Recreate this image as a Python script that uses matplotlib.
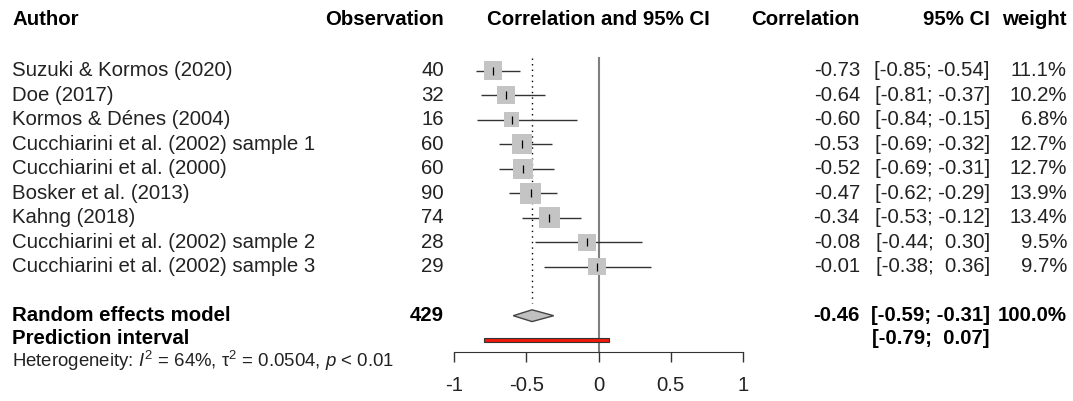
import matplotlib
matplotlib.use("Agg")
import numpy as np
import matplotlib.pyplot as plt
from matplotlib.patches import Rectangle, Polygon
from matplotlib import transforms

plt.rcParams['font.family'] = ['Liberation Sans', 'DejaVu Sans']
plt.rcParams['mathtext.fontset'] = 'custom'
plt.rcParams['mathtext.rm'] = 'Liberation Sans'
plt.rcParams['mathtext.it'] = 'Liberation Sans:italic'

# data
authors = ["Suzuki & Kormos (2020)", "Doe (2017)", "Kormos & Dénes (2004)",
           "Cucchiarini et al. (2002) sample 1", "Cucchiarini et al. (2000)",
           "Bosker et al. (2013)", "Kahng (2018)",
           "Cucchiarini et al. (2002) sample 2", "Cucchiarini et al. (2002) sample 3"]
observations = [40, 32, 16, 60, 60, 90, 74, 28, 29]
corr = [-0.73, -0.64, -0.60, -0.53, -0.52, -0.47, -0.34, -0.08, -0.01]
ci_low = [-0.85, -0.81, -0.84, -0.69, -0.69, -0.62, -0.53, -0.44, -0.38]
ci_high = [-0.54, -0.37, -0.15, -0.32, -0.31, -0.29, -0.12, 0.30, 0.36]
weights = [11.1, 10.2, 6.8, 12.7, 12.7, 13.9, 13.4, 9.5, 9.7]

re_total = 429
re_est, re_low, re_high = -0.46, -0.59, -0.31
pi_low, pi_high = -0.79, 0.07
het_text = r"Heterogeneity: $I^2$ = 64%, τ$^2$ = 0.0504, $p$ < 0.01"
xticks = [-1, -0.5, 0, 0.5, 1]

# layout (pixels)
W, H = 1073, 401
row0_px, row_px = 70.7, 24.5
axis_px = 351.7
fs = 14.7

fig = plt.figure(figsize=(W / 100, H / 100), dpi=100)
ax = fig.add_axes([454 / W, (H - axis_px) / H, 289 / W, axis_px / H])
ax.set_xlim(-1, 1)
ax.set_ylim((axis_px - row0_px) / row_px, -row0_px / row_px)
for s in ["top", "right", "left"]:
    ax.spines[s].set_visible(False)
ax.spines["bottom"].set_bounds(-1, 1)
ax.spines["bottom"].set_color("#333333")
ax.set_yticks([])
ax.set_xticks(xticks)
ax.set_xticklabels(["-1", "-0.5", "0", "0.5", "1"])
ax.tick_params(axis="x", length=7.5, width=1, color="#333333", pad=10,
               labelsize=fs, labelcolor="#222222")

n = len(authors)
rows = np.arange(n)
re_row, pi_row, head_row = n + 1, n + 2, -2.07
het_base = (367 - row0_px) / row_px

# reference lines
ax.plot([0, 0], [-0.52, ax.get_ylim()[0]], color="#808080", lw=1.5, zorder=1, clip_on=False)
ax.plot([re_est, re_est], [-0.52, n + 0.5], color="black", lw=1, ls=(0, (1, 3)), zorder=1)

# studies
ax.hlines(rows, ci_low, ci_high, color="#333333", lw=1, zorder=2)
side_pt = 5.6 * np.sqrt(weights) * 0.72
ax.scatter(corr, rows, s=side_pt ** 2, marker="s", color="#c4c4c4", lw=0, zorder=3)
ax.scatter(corr, rows, s=5.5 ** 2, marker="|", color="black", lw=0.9, zorder=4)

# random effects diamond
dh = 0.24
ax.add_patch(Polygon([(re_low, re_row), (re_est, re_row - dh), (re_high, re_row), (re_est, re_row + dh)],
                     closed=True, facecolor="#c0c0c0", edgecolor="#444444", lw=1, zorder=3))
# prediction interval
ax.add_patch(Rectangle((pi_low, pi_row - 0.09), pi_high - pi_low, 0.18,
                       facecolor="#f01a0a", edgecolor="#333333", lw=0.8, zorder=3, clip_on=False))

# text columns
tr = transforms.blended_transform_factory(fig.transFigure, ax.transData)
col_author, col_obs, col_cor, col_ci, col_w = 12 / W, 444 / W, 860 / W, 990 / W, 1067 / W
col_mid = 598.7 / W

def txt(x, y, s, ha="left", bold=False, size=fs, color="#222222", va="center"):
    ax.text(x, y, s, transform=tr, ha=ha, va=va, fontsize=size,
            fontweight="bold" if bold else "normal", color=color, clip_on=False)

txt(col_author, head_row, "Author", bold=True, color="black")
txt(col_obs, head_row, "Observation", ha="right", bold=True, color="black")
txt(col_mid, head_row, "Correlation and 95% CI", ha="center", bold=True, color="black")
txt(col_cor, head_row, "Correlation", ha="right", bold=True, color="black")
txt(col_ci, head_row, "95% CI", ha="right", bold=True, color="black")
txt(col_w, head_row, "weight", ha="right", bold=True, color="black")

def fmt(v):
    return f"{v:.2f}" if v < 0 else f" {v:.2f}"

for i in range(n):
    txt(col_author, i, authors[i])
    txt(col_obs, i, str(observations[i]), ha="right")
    txt(col_cor, i, f"{corr[i]:.2f}", ha="right")
    txt(col_ci, i, f"[{ci_low[i]:.2f}; {fmt(ci_high[i])}]", ha="right")
    txt(col_w, i, f"{weights[i]:.1f}%", ha="right")

txt(col_author, re_row, "Random effects model", bold=True, color="black")
txt(col_obs, re_row, str(re_total), ha="right", bold=True, color="black")
txt(col_cor, re_row, f"{re_est:.2f}", ha="right", bold=True, color="black")
txt(col_ci, re_row, f"[{re_low:.2f}; {fmt(re_high)}]", ha="right", bold=True, color="black")
txt(col_w, re_row, "100.0%", ha="right", bold=True, color="black")

txt(col_author, pi_row - 0.05, "Prediction interval", bold=True, color="black")
txt(col_ci, pi_row - 0.05, f"[{pi_low:.2f}; {fmt(pi_high)}]", ha="right", bold=True, color="black")

txt(col_author, het_base, het_text, size=13.4, va="baseline")

fig.savefig("out.png", dpi=100)
